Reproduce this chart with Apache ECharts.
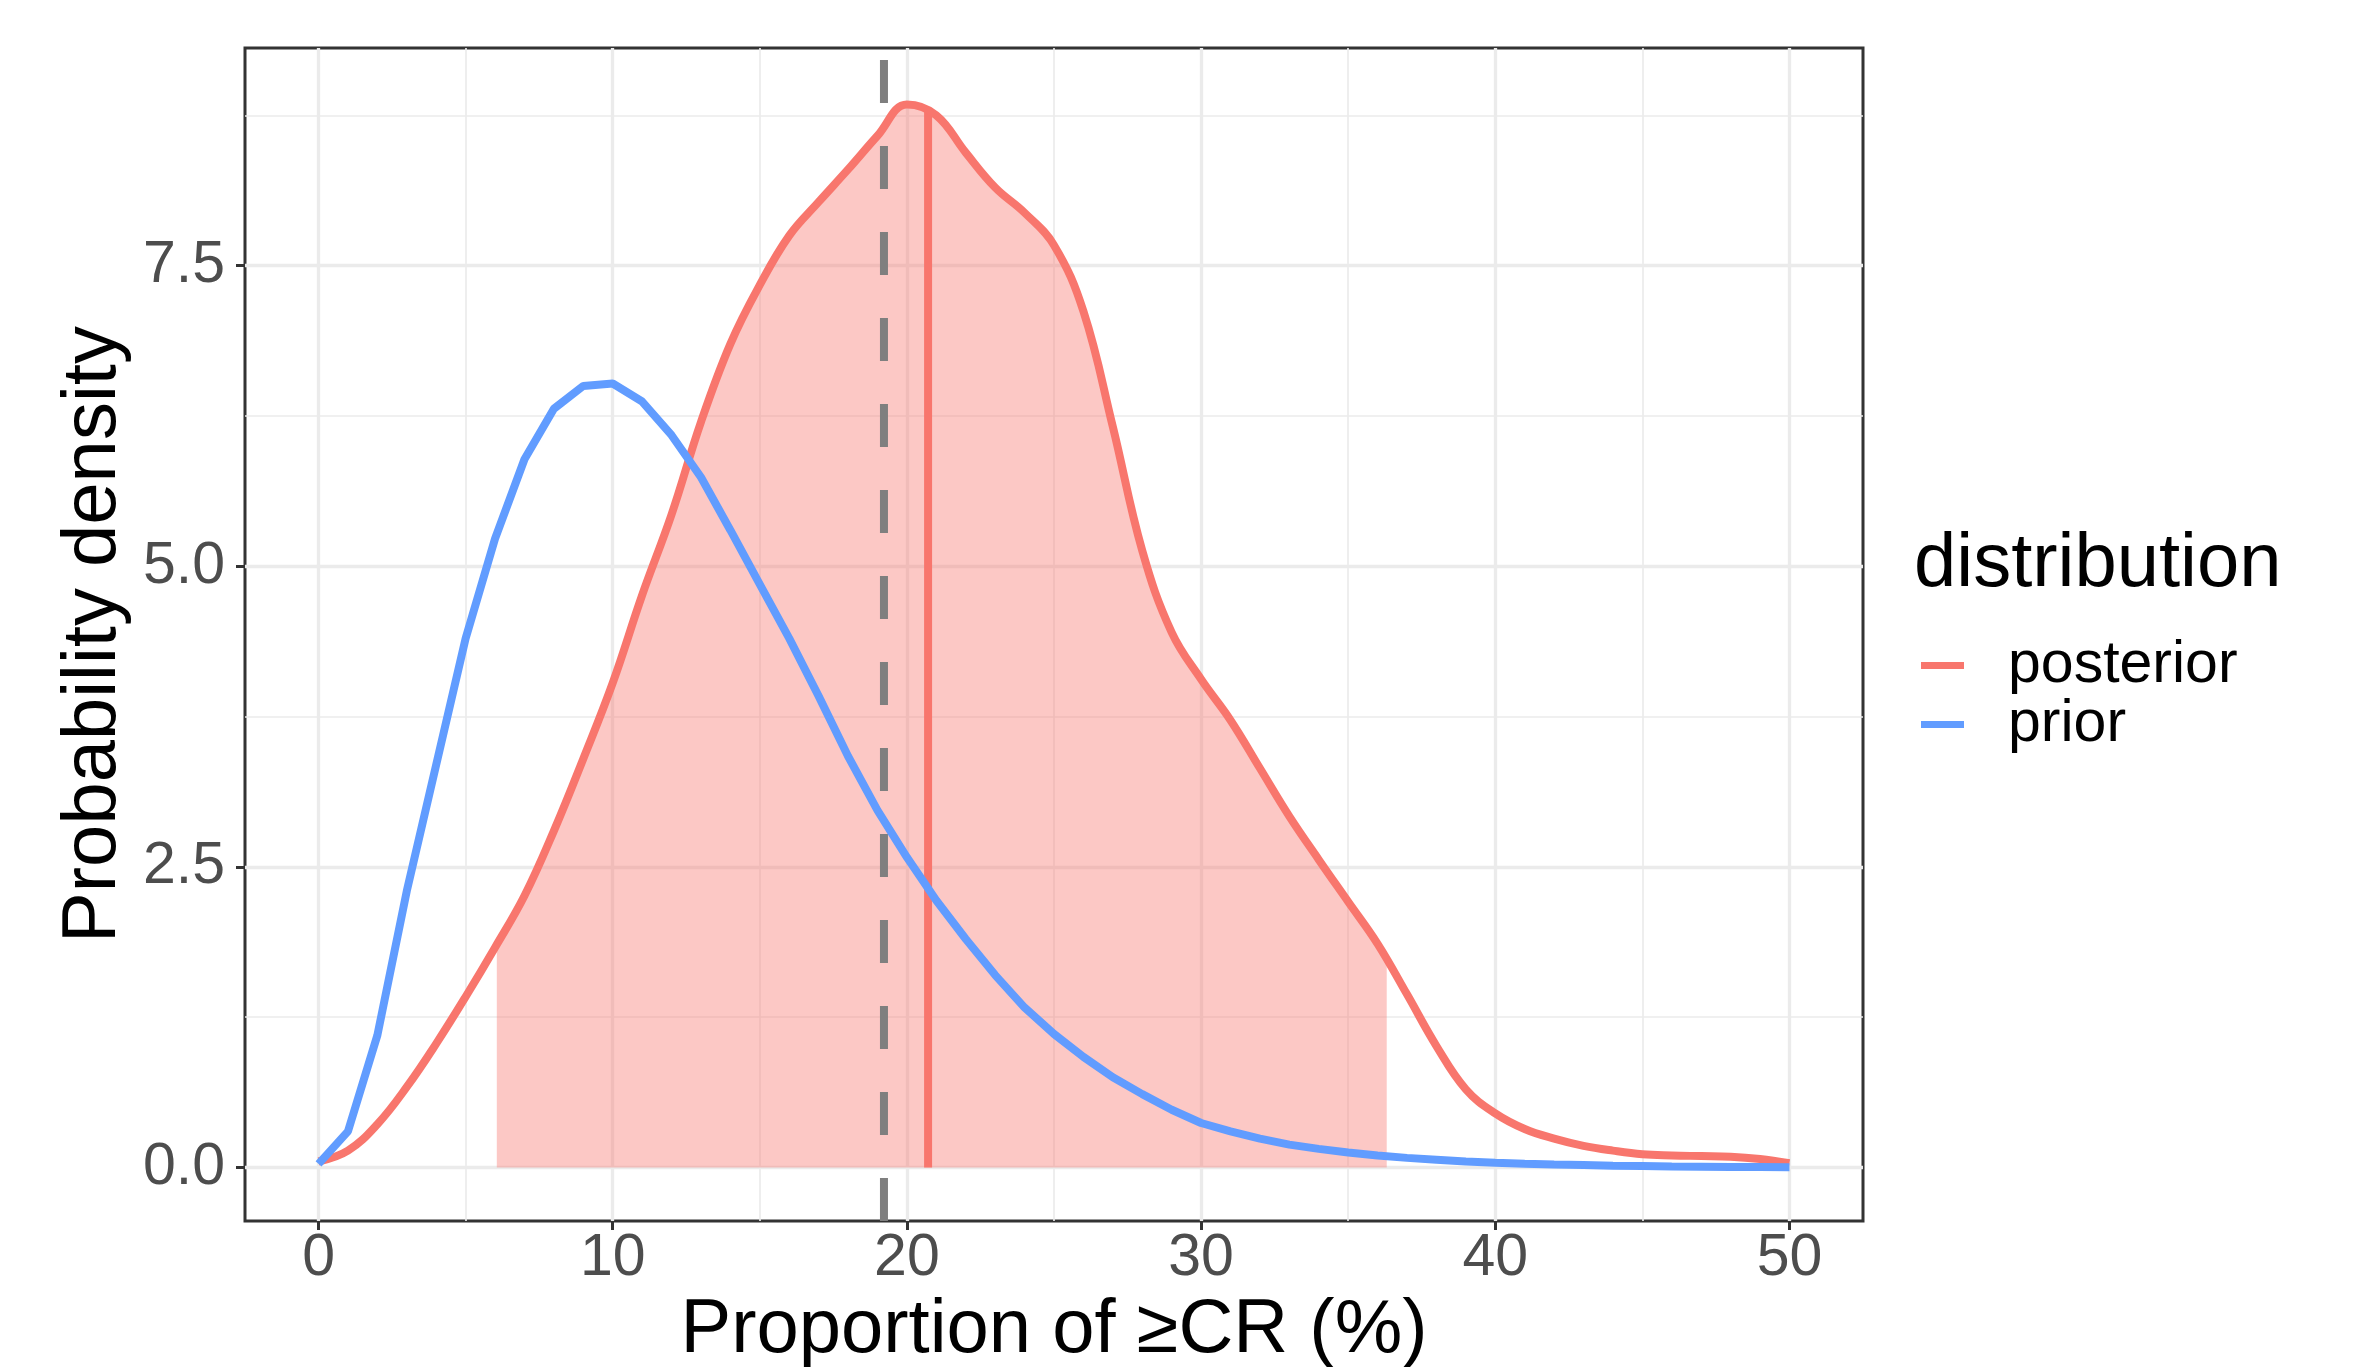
<!DOCTYPE html>
<html>
<head>
<meta charset="utf-8">
<title>Posterior vs prior</title>
<script src="https://cdn.jsdelivr.net/npm/echarts@6/dist/echarts.min.js"></script>
<style>
  html, body { margin: 0; padding: 0; background: #ffffff; }
  #chart-container { width: 2353px; height: 1367px; }
</style>
</head>
<body>
<div id="chart-container"></div>
<script>
// values (x in %, density per unit proportion)
var xTicks = [0, 10, 20, 30, 40, 50];
var yTicks = [0, 2.5, 5, 7.5];

var priorX = [0, 1, 2, 3, 4, 5, 6, 7, 8, 9, 10, 11, 12, 13, 14, 15, 16, 17, 18, 19, 20,
    21, 22, 23, 24, 25, 26, 27, 28, 29, 30, 31, 32, 33, 34, 35, 36, 37, 38, 39, 40,
    41, 42, 43, 44, 45, 46, 47, 48, 49, 50];
var priorDensity = [0.03, 0.30, 1.10, 2.30, 3.35, 4.40, 5.23, 5.89, 6.31, 6.50, 6.52,
    6.37, 6.09, 5.74, 5.30, 4.85, 4.40, 3.92, 3.42, 2.97, 2.58,
    2.22, 1.90, 1.60, 1.33, 1.11, 0.92, 0.75, 0.61, 0.48, 0.37,
    0.30, 0.24, 0.19, 0.155, 0.125, 0.10, 0.08, 0.065, 0.05, 0.04,
    0.032, 0.025, 0.02, 0.015, 0.012, 0.009, 0.007, 0.005, 0.004, 0.003];

var postX = [0, 1, 2, 3, 4, 5, 6, 7, 8, 9, 10, 11, 12, 13, 14, 15, 16, 17, 18, 19, 20,
    21, 22, 23, 24, 25, 26, 27, 28, 29, 30, 31, 32, 33, 34, 35, 36, 37, 38, 39, 40,
    41, 42, 43, 44, 45, 46, 47, 48, 49, 50];
var postDensity = [0.05, 0.14, 0.36, 0.67, 1.03, 1.42, 1.83, 2.26, 2.80, 3.40, 4.03,
    4.76, 5.43, 6.20, 6.85, 7.34, 7.75, 8.03, 8.30, 8.58, 8.84,
    8.75, 8.44, 8.15, 7.94, 7.67, 7.12, 6.16, 5.13, 4.45, 4.06,
    3.72, 3.32, 2.92, 2.56, 2.21, 1.86, 1.44, 1.01, 0.65, 0.45,
    0.32, 0.24, 0.18, 0.14, 0.11, 0.10, 0.095, 0.09, 0.07, 0.035];

// shaded credible interval and its edge heights
var ciBounds = [6.06, 36.31];
var ciEdgeDensity = [1.85, 1.72];

var priorMean = 19.22;       // dashed line
var postMedian = 20.72;      // solid red line
var postMedianDensity = 8.80;

var xRange = [-2.5, 52.5];
var yRange = [-0.445, 9.31];

var red = '#F8766D';
var blue = '#619CFF';
var font = '"Liberation Sans", Arial, sans-serif';

function pairs(xs, ys) {
    var out = [];
    for (var i = 0; i < xs.length; i++) out.push([xs[i], ys[i]]);
    return out;
}

var postData = pairs(postX, postDensity);
var ciData = [[ciBounds[0], ciEdgeDensity[0]]];
for (var i = 0; i < postX.length; i++) {
    if (postX[i] > ciBounds[0] && postX[i] < ciBounds[1]) ciData.push([postX[i], postDensity[i]]);
}
ciData.push([ciBounds[1], ciEdgeDensity[1]]);

var option = {
    animation: false,
    backgroundColor: '#ffffff',
    textStyle: { fontFamily: font },
    title: {
        text: 'distribution',
        left: 1914,
        top: 527,
        padding: 0,
        textStyle: { fontSize: 76, fontWeight: 'normal', color: '#000000', fontFamily: font, lineHeight: 76 }
    },
    legend: {
        data: ['posterior', 'prior'],
        orient: 'vertical',
        left: 1921,
        top: 636,
        padding: 0,
        itemGap: 0,
        icon: 'rect',
        itemWidth: 43,
        itemHeight: 7,
        selectedMode: false,
        textStyle: { fontSize: 59, color: '#000000', fontFamily: font, lineHeight: 55, padding: [0, 0, 0, 39] }
    },
    grid: {
        left: 245,
        top: 48,
        width: 1618,
        height: 1173,
        containLabel: false,
        outerBoundsMode: 'none',
        show: true,
        borderColor: '#333333',
        borderWidth: 3,
        backgroundColor: 'transparent'
    },
    xAxis: {
        type: 'value',
        min: xRange[0],
        max: xRange[1],
        minInterval: 10,
        maxInterval: 10,
        name: 'Proportion of ≥CR (%)',
        nameLocation: 'middle',
        nameGap: 67,
        nameTextStyle: { fontSize: 76, color: '#000000', fontFamily: font },
        axisLine: { show: false, onZero: false },
        axisTick: { show: true, length: 9, customValues: xTicks, lineStyle: { color: '#333333', width: 3 } },
        axisLabel: { customValues: xTicks, margin: 8, fontSize: 59, color: '#4D4D4D', fontFamily: font },
        splitLine: { show: true, lineStyle: { color: '#EBEBEB', width: 3.3 } },
        minorTick: { show: false, splitNumber: 2 },
        minorSplitLine: { show: true, lineStyle: { color: '#EBEBEB', width: 1.7 } }
    },
    yAxis: {
        type: 'value',
        min: yRange[0],
        max: yRange[1],
        minInterval: 2.5,
        maxInterval: 2.5,
        name: 'Probability density',
        nameLocation: 'middle',
        nameGap: 112,
        nameTextStyle: { fontSize: 76, color: '#000000', fontFamily: font },
        axisLine: { show: false, onZero: false },
        axisTick: { show: true, length: 9, customValues: yTicks, lineStyle: { color: '#333333', width: 3 } },
        axisLabel: {
            customValues: yTicks, margin: 20, fontSize: 59, color: '#4D4D4D', fontFamily: font,
            formatter: function (v) { return v.toFixed(1); }
        },
        splitLine: { show: true, lineStyle: { color: '#EBEBEB', width: 3.3 } },
        minorTick: { show: false, splitNumber: 2 },
        minorSplitLine: { show: true, lineStyle: { color: '#EBEBEB', width: 1.7 } }
    },
    series: [
        {
            name: 'interval',
            type: 'line',
            data: ciData,
            smooth: 0.4,
            symbol: 'none',
            silent: true,
            lineStyle: { width: 0 },
            areaStyle: { color: red, opacity: 0.4, origin: 'auto' },
            z: 1
        },
        {
            name: 'prior mean',
            type: 'line',
            data: [[priorMean, yRange[0]], [priorMean, yRange[1]]],
            symbol: 'none',
            silent: true,
            lineStyle: { color: '#7F7F7F', width: 8, type: [43, 43] },
            z: 2
        },
        {
            name: 'posterior median',
            type: 'line',
            data: [[postMedian, 0], [postMedian, postMedianDensity]],
            symbol: 'none',
            silent: true,
            lineStyle: { color: red, width: 8 },
            z: 3
        },
        {
            name: 'posterior',
            type: 'line',
            data: postData,
            smooth: 0.4,
            symbol: 'none',
            silent: true,
            color: red,
            lineStyle: { color: red, width: 8 },
            z: 4
        },
        {
            name: 'prior',
            type: 'line',
            data: pairs(priorX, priorDensity),
            symbol: 'none',
            silent: true,
            color: blue,
            lineStyle: { color: blue, width: 8 },
            z: 5
        }
    ]
};

var myChart = echarts.init(document.getElementById('chart-container'), null, { renderer: 'canvas' });
myChart.setOption(option);
</script>
</body>
</html>
